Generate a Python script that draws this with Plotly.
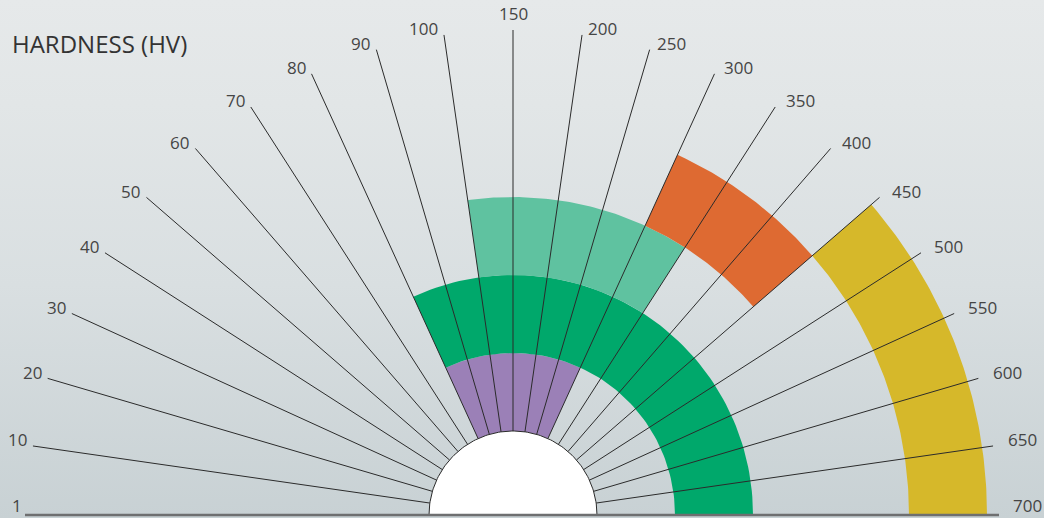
import numpy as np
import plotly.graph_objects as go

# HV scale ticks, spaced evenly round the half circle (1 on the left, 700 on the right)
tick_values = [1, 10, 20, 30, 40, 50, 60, 70, 80, 90, 100,
               150, 200, 250, 300, 350, 400, 450, 500, 550, 600, 650, 700]
tick_labels = [str(v) for v in tick_values]

# hardness bands: HV range and which ring they sit on (0 = innermost)
band_from = [80, 80, 100, 300, 450]
band_to = [300, 700, 350, 450, 700]
band_ring = [0, 1, 2, 3, 4]
band_colors = ["#9b80b7", "#00a86b", "#5fc2a0", "#de6a32", "#d6b82a"]

TITLE = "HARDNESS (HV)"

W, H = 1044, 518
CX, CY = 513, 515          # centre of the half circle, in pixels from top-left
R_HUB = 84                 # white hub radius
RING_W = 78                # width of one band ring
R_END = 485                # where the tick spokes stop
FONT = "Open Sans"


def hv_angle(v):
    """Map an HV value to an angle (radians) on the tick-index scale."""
    idx = np.interp(v, tick_values, np.arange(len(tick_values)))
    return np.pi * (1 - idx / (len(tick_values) - 1))


def sector(a0, a1, r0, r1, n=80):
    t = np.linspace(a0, a1, n)
    xs = np.concatenate([r1 * np.cos(t), r0 * np.cos(t[::-1])])
    ys = np.concatenate([r1 * np.sin(t), r0 * np.sin(t[::-1])])
    return np.append(xs, xs[0]), np.append(ys, ys[0])


fig = go.Figure()

# background: soft grey sky gradient
x0, x1 = -CX, W - CX
y0, y1 = CY - H, CY
fig.add_trace(go.Scatter(
    x=[x0, x1, x1, x0, x0], y=[y0, y0, y1, y1, y0],
    mode="lines", line=dict(width=0), fill="toself",
    fillgradient=dict(type="vertical", colorscale=[
        [0, "#c8d1d4"], [0.45, "#d9dfe1"], [0.8, "#e2e6e7"], [1, "#e6e9ea"]]),
    hoverinfo="skip",
))

# coloured bands
for lo, hi, ring, color in zip(band_from, band_to, band_ring, band_colors):
    r0 = R_HUB + ring * RING_W
    xs, ys = sector(hv_angle(hi), hv_angle(lo), r0, r0 + RING_W)
    fig.add_trace(go.Scatter(
        x=xs, y=ys, mode="lines", line=dict(width=0),
        fill="toself", fillcolor=color, hoverinfo="skip",
    ))

# spokes (the 1 and 700 spokes are the baseline drawn below)
sx, sy = [], []
for v in tick_values[1:-1]:
    a = hv_angle(v)
    sx += [R_HUB * np.cos(a), R_END * np.cos(a), None]
    sy += [R_HUB * np.sin(a), R_END * np.sin(a), None]
fig.add_trace(go.Scatter(x=sx, y=sy, mode="lines",
                         line=dict(color="#2b2b2b", width=1), hoverinfo="skip"))

# white hub
t = np.linspace(0, np.pi, 120)
fig.add_trace(go.Scatter(
    x=R_HUB * np.cos(t), y=R_HUB * np.sin(t), mode="lines",
    line=dict(color="#2b2b2b", width=1), fill="toself", fillcolor="white",
    hoverinfo="skip",
))

# baseline
fig.add_trace(go.Scatter(
    x=[-488, 486], y=[0, 0], mode="lines",
    line=dict(color="#6e6f70", width=2.5), hoverinfo="skip",
))

# tick labels
for v, lab in zip(tick_values, tick_labels):
    a = hv_angle(v)
    ex, ey = R_END * np.cos(a), R_END * np.sin(a)
    # labels on the baseline sit a little higher so they stay inside the page
    dy = 10 if abs(np.sin(a)) < 1e-6 else 6
    if abs(np.cos(a)) < 1e-6:
        kw = dict(xanchor="center", yanchor="bottom", yshift=3)
    elif np.cos(a) < 0:
        kw = dict(xanchor="right", yanchor="middle", xshift=-4, yshift=dy)
    else:
        kw = dict(xanchor="left", yanchor="middle",
                  xshift=3 + 10 * np.cos(a), yshift=dy)
    fig.add_annotation(x=ex, y=ey, text=lab, showarrow=False,
                       font=dict(family=FONT, size=17, color="#454545"), **kw)

fig.add_annotation(x=x0 + 10, y=CY - 43, text=TITLE, showarrow=False,
                   xanchor="left", yanchor="middle",
                   font=dict(family=FONT, size=24, color="#333333"))

fig.update_layout(
    width=W, height=H,
    margin=dict(l=0, r=0, t=0, b=0),
    paper_bgcolor="#dde2e4", plot_bgcolor="#dde2e4",
    showlegend=False,
    xaxis=dict(range=[x0, x1], visible=False, fixedrange=True),
    yaxis=dict(range=[y0, y1], visible=False, fixedrange=True),
)

# the page's default body margin would shift the figure by 8px
fig.write_html("out.html", config={"displayModeBar": False},
               post_script="document.body.style.margin='0';"
                           "document.body.style.overflow='hidden';")
